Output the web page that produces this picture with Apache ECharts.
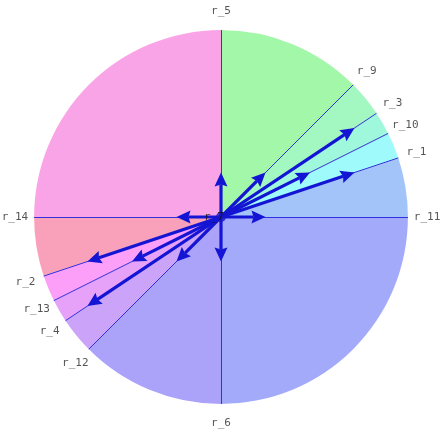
<!DOCTYPE html>
<html>
<head>
<meta charset="utf-8">
<script src="https://cdn.jsdelivr.net/npm/echarts@6/dist/echarts.min.js"></script>
<style>
  html, body { margin: 0; padding: 0; background: #fff; }
  #chart { width: 443px; height: 435px; }
</style>
</head>
<body>
<div id="chart"></div>
<script>
// vectors, one per root name (r_7 is the zero vector at the centre)
const names = ['r_1', 'r_2', 'r_3', 'r_4', 'r_5', 'r_6', 'r_7', 'r_9', 'r_10', 'r_11', 'r_12', 'r_13', 'r_14']
const vx = [3, -3, 3, -3, 0, 0, 0, 1, 2, 1, -1, -2, -1]
const vy = [1, -1, 2, -2, 1, -1, 0, 1, 1, 0, -1, -1, 0]

// sectors: each starts at a ray and runs counter-clockwise to the next one
const sectorFrom = ['r_11', 'r_1', 'r_10', 'r_3', 'r_9', 'r_5', 'r_14', 'r_2', 'r_13', 'r_4', 'r_12', 'r_6']
const sectorColors = ['#a3c4f8', '#9ffbfb', '#a0f8dc', '#a3f7c0', '#a3f7a9', '#f9a4e6',
                      '#f9a1ba', '#fb9ff9', '#e6a2f9', '#cba3f9', '#aba3f9', '#a3aaf9']

const DISK = 4.2      // disk radius in vector units
const LABEL_R = 4.63  // where the ray names sit

const U = 44.5        // pixels per unit
const CX = 221, CY = 217

const angleOf = (i) => Math.atan2(vy[i], vx[i])
const rays = names.map((n, i) => ({ name: n, i })).filter(r => vx[r.i] !== 0 || vy[r.i] !== 0)

const sectors = sectorFrom.map((n, k) => {
    let a0 = angleOf(names.indexOf(n))
    let a1 = angleOf(names.indexOf(sectorFrom[(k + 1) % sectorFrom.length]))
    if (a1 <= a0) a1 += Math.PI * 2
    return [a0, a1, k]
})

const chart = echarts.init(document.getElementById('chart'))

const option = {
    animation: false,
    grid: { left: 0, right: 0, top: 0, bottom: 0 },
    xAxis: { type: 'value', min: -CX / U, max: (443 - CX) / U, show: false },
    yAxis: { type: 'value', min: -(435 - CY) / U, max: CY / U, show: false },
    series: [
        {
            type: 'custom',
            silent: true,
            data: sectors,
            renderItem: (params, api) => {
                const c = api.coord([0, 0])
                const e = api.coord([DISK, 0])
                const a0 = api.value(0), a1 = api.value(1)
                return {
                    type: 'sector',
                    shape: {
                        cx: c[0], cy: c[1], r0: 0, r: e[0] - c[0],
                        startAngle: -a1, endAngle: -a0, clockwise: true
                    },
                    style: { fill: sectorColors[api.value(2)], stroke: null }
                }
            }
        },
        {
            type: 'lines',
            coordinateSystem: 'cartesian2d',
            silent: true,
            symbol: 'none',
            lineStyle: { color: '#3030dc', width: 1, opacity: 1 },
            data: rays.map(r => {
                const a = angleOf(r.i)
                return { coords: [[0, 0], [DISK * Math.cos(a), DISK * Math.sin(a)]] }
            })
        },
        {
            type: 'scatter',
            silent: true,
            symbolSize: 0,
            data: names.map((n, i) => {
                if (vx[i] === 0 && vy[i] === 0) return { name: n, value: [0, 0], label: { offset: [-7, 0], color: '#111' } }
                const a = angleOf(i)
                return { name: n, value: [LABEL_R * Math.cos(a), LABEL_R * Math.sin(a)] }
            }),
            label: {
                show: true,
                position: 'inside',
                formatter: '{b}',
                color: '#2a2a2a',
                fontFamily: 'DejaVu Sans Mono',
                fontSize: 11
            }
        },
        {
            // arrows: shaft plus a solid head whose tip sits on the vector end
            type: 'custom',
            silent: true,
            data: rays.map(r => [vx[r.i], vy[r.i]]),
            renderItem: (params, api) => {
                const p0 = api.coord([0, 0])
                const p1 = api.coord([api.value(0), api.value(1)])
                const dx = p1[0] - p0[0], dy = p1[1] - p0[1]
                const len = Math.sqrt(dx * dx + dy * dy)
                const ux = dx / len, uy = dy / len
                const headLen = 14, headW = 6.5
                const bx = p1[0] - ux * headLen, by = p1[1] - uy * headLen
                return {
                    type: 'group',
                    children: [
                        {
                            type: 'line',
                            shape: { x1: p0[0], y1: p0[1], x2: bx + ux * 2, y2: by + uy * 2 },
                            style: { stroke: '#1414d4', lineWidth: 3.2 }
                        },
                        {
                            type: 'polygon',
                            shape: {
                                points: [
                                    [p1[0], p1[1]],
                                    [bx - uy * headW, by + ux * headW],
                                    [bx + ux * 2, by + uy * 2],
                                    [bx + uy * headW, by - ux * headW]
                                ]
                            },
                            style: { fill: '#1414d4' }
                        }
                    ]
                }
            }
        },
        {
            type: 'scatter',
            silent: true,
            symbolSize: 10,
            itemStyle: { color: '#1616c4' },
            data: [[0, 0]]
        }
    ]
}

chart.setOption(option)
</script>
</body>
</html>
